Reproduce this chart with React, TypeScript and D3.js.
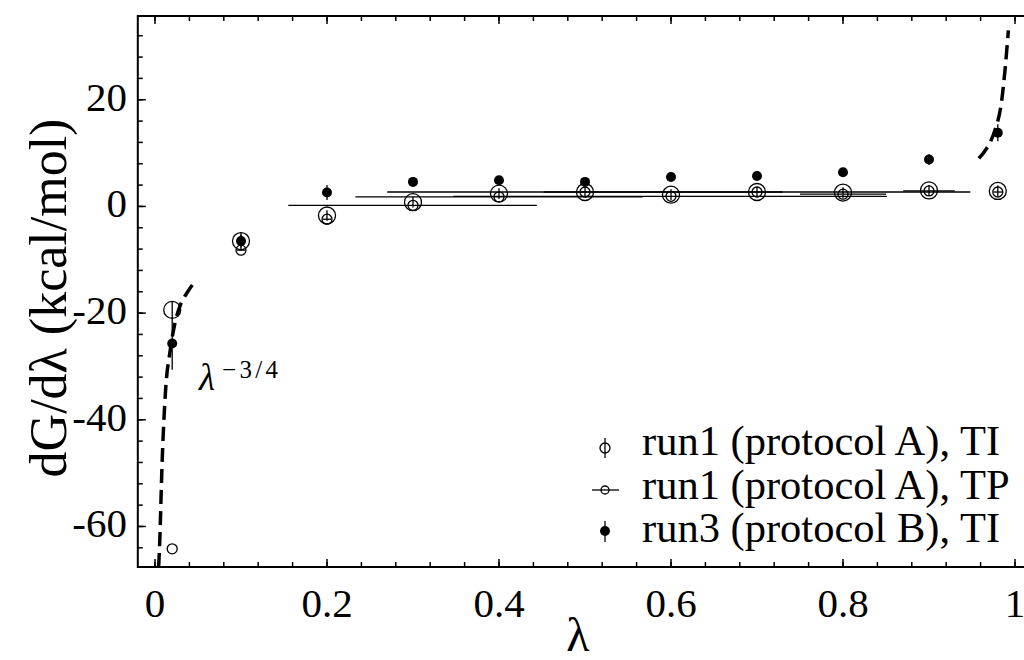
import React from 'react';
import * as d3 from 'd3';

// ---------- data ----------
const lambdas = [0.02, 0.1, 0.2, 0.3, 0.4, 0.5, 0.6, 0.7, 0.8, 0.9, 0.98];
// run1 (protocol A), TI : big open circles with vertical error bars
const run1TI = [-19.4, -6.5, -1.7, 0.8, 2.4, 2.7, 2.2, 2.7, 2.6, 3.0, 2.9];
const run1TIErr = [1.6, 1.2, 1.0, 1.0, 1.0, 1.0, 1.0, 1.0, 1.0, 1.0, 1.0];
// run1 (protocol A), TP : small open circles with horizontal bars
const run1TP = [-64.2, -8.2, -2.4, 0.2, 1.8, 2.7, 1.9, 2.7, 2.3, 2.9, 2.7];
const run1TPLo = [0.02, 0.095, 0.195, 0.155, 0.233, 0.27, 0.347, 0.452, 0.75, 0.87, 0.975];
const run1TPHi = [0.02, 0.105, 0.205, 0.444, 0.567, 0.73, 0.851, 0.948, 0.85, 0.93, 0.985];
// run3 (protocol B), TI : filled circles with vertical error bars
const run3TI = [-25.7, -6.5, 2.6, 4.6, 4.9, 4.6, 5.5, 5.7, 6.4, 8.8, 13.8];
const run3TIErr = [4.9, 1.5, 1.4, 0.4, 0.4, 0.4, 0.4, 0.4, 0.4, 1.0, 1.6];

// lambda^{-3/4} guide curves
const leftCurveX = [0.0042, 0.005, 0.0085, 0.0125, 0.0174, 0.0233, 0.03, 0.038, 0.047];
const leftCurveY = [-67.6, -65.0, -47.0, -34.0, -27.3, -21.8, -18.3, -16.0, -14.0];
const rightCurveX = [0.958, 0.965, 0.971, 0.977, 0.9845, 0.9884, 0.9923];
const rightCurveY = [9.0, 10.4, 12.0, 14.4, 19.8, 25.6, 33.0];

const xMajor = [0, 0.2, 0.4, 0.6, 0.8, 1];
const xMajorLabels = ['0', '0.2', '0.4', '0.6', '0.8', '1'];
const xMinor = d3.range(0, 26).map((i) => i * 0.04);
const yMajor = [-60, -40, -20, 0, 20];
const yMajorLabels = ['-60', '-40', '-20', '0', '20'];
const yMinor = d3.range(-16, 9).map((i) => i * 4);

const legendLabels = ['run1 (protocol A), TI', 'run1 (protocol A), TP', 'run3 (protocol B), TI'];

const FONT = "'Liberation Serif', 'Times New Roman', Times, 'DejaVu Serif', serif";

export default function App() {
  const W = 1024, H = 660;
  const x = d3.scaleLinear().domain([-0.02, 1.02]).range([137.8, 1032.2]);
  const y = d3.scaleLinear().domain([-67.6, 35.7]).range([567, 16]);
  const L = x.range()[0], R = x.range()[1], T = y.range()[1], B = y.range()[0];

  const line = d3.line<[number, number]>().x((d) => x(d[0])).y((d) => y(d[1])).curve(d3.curveMonotoneX);
  const leftPts = leftCurveX.map((v, i) => [v, leftCurveY[i]] as [number, number]);
  const rightPts = rightCurveX.map((v, i) => [v, rightCurveY[i]] as [number, number]);

  const majorLen = 8, minorLen = 5;
  const ts: React.CSSProperties = { fontFamily: FONT };

  return (
    <svg width={W} height={H} style={{ position: 'absolute', left: 0, top: 0, background: '#fff', fontFamily: FONT }}>
      <rect x={0} y={0} width={W} height={H} fill="#fff" />
      {/* frame */}
      <rect x={L} y={T} width={R - L} height={B - T} fill="none" stroke="#000" strokeWidth={2} />
      {/* x ticks top & bottom */}
      {xMinor.map((v, i) => (
        <g key={'xm' + i}>
          <line x1={x(v)} x2={x(v)} y1={B} y2={B - minorLen} stroke="#000" strokeWidth={1.5} />
          <line x1={x(v)} x2={x(v)} y1={T} y2={T + minorLen} stroke="#000" strokeWidth={1.5} />
        </g>
      ))}
      {xMajor.map((v, i) => (
        <g key={'xM' + i}>
          <line x1={x(v)} x2={x(v)} y1={B} y2={B - majorLen} stroke="#000" strokeWidth={1.5} />
          <line x1={x(v)} x2={x(v)} y1={T} y2={T + majorLen} stroke="#000" strokeWidth={1.5} />
          <text x={x(v)} y={617} fontSize={41} textAnchor="middle" style={ts}>{xMajorLabels[i]}</text>
        </g>
      ))}
      {/* y ticks left & right */}
      {yMinor.map((v, i) => (
        <g key={'ym' + i}>
          <line x1={L} x2={L + minorLen} y1={y(v)} y2={y(v)} stroke="#000" strokeWidth={1.5} />
          <line x1={R} x2={R - minorLen} y1={y(v)} y2={y(v)} stroke="#000" strokeWidth={1.5} />
        </g>
      ))}
      {yMajor.map((v, i) => (
        <g key={'yM' + i}>
          <line x1={L} x2={L + majorLen} y1={y(v)} y2={y(v)} stroke="#000" strokeWidth={1.5} />
          <line x1={R} x2={R - majorLen} y1={y(v)} y2={y(v)} stroke="#000" strokeWidth={1.5} />
          <text x={127} y={y(v) + 11} fontSize={41} textAnchor="end" style={ts}>{yMajorLabels[i]}</text>
        </g>
      ))}
      {/* axis titles */}
      <text x={578} y={651} fontSize={48} textAnchor="middle" style={ts}>λ</text>
      <text transform={`translate(66,${298}) rotate(-90)`} fontSize={52} textAnchor="middle" style={ts}>dG/dλ (kcal/mol)</text>

      {/* guide curves */}
      <path d={line(leftPts) || ''} fill="none" stroke="#000" strokeWidth={3.5} strokeDasharray="14 7" />
      <path d={line(rightPts) || ''} fill="none" stroke="#000" strokeWidth={3.5} strokeDasharray="14 7" />
      <text x={199} y={390} fontSize={37} fontStyle="italic" style={ts}>λ</text>
      <text x={222} y={378} fontSize={25} textLength={56} lengthAdjust="spacing" style={ts}>−3/4</text>

      {/* TP horizontal bars + small circles */}
      {lambdas.map((l, i) => (
        <g key={'tp' + i}>
          {run1TPHi[i] > run1TPLo[i] && (
            <line x1={x(run1TPLo[i])} x2={x(run1TPHi[i])} y1={y(run1TP[i])} y2={y(run1TP[i])} stroke="#000" strokeWidth={1.3} />
          )}
          <circle cx={x(l)} cy={y(run1TP[i])} r={5} fill="none" stroke="#000" strokeWidth={1.3} />
        </g>
      ))}
      {/* run1 TI big circles */}
      {lambdas.map((l, i) => (
        <g key={'ti' + i}>
          <line x1={x(l)} x2={x(l)} y1={y(run1TI[i] - run1TIErr[i])} y2={y(run1TI[i] + run1TIErr[i])} stroke="#000" strokeWidth={1.3} />
          <circle cx={x(l)} cy={y(run1TI[i])} r={8.5} fill="none" stroke="#000" strokeWidth={1.3} />
        </g>
      ))}
      {/* run3 TI filled */}
      {lambdas.map((l, i) => (
        <g key={'r3' + i}>
          <line x1={x(l)} x2={x(l)} y1={y(run3TI[i] - run3TIErr[i])} y2={y(run3TI[i] + run3TIErr[i])} stroke="#000" strokeWidth={1.3} />
          <circle cx={x(l)} cy={y(run3TI[i])} r={5} fill="#000" />
        </g>
      ))}

      {/* legend */}
      <g>
        <line x1={605} x2={605} y1={438} y2={458} stroke="#000" strokeWidth={1.3} />
        <circle cx={605} cy={448} r={5} fill="none" stroke="#000" strokeWidth={1.3} />
        <text x={642} y={455} fontSize={42.5} style={ts}>{legendLabels[0]}</text>

        <line x1={592} x2={619} y1={490} y2={490} stroke="#000" strokeWidth={1.3} />
        <circle cx={605} cy={490} r={4} fill="none" stroke="#000" strokeWidth={1.3} />
        <text x={642} y={498.5} fontSize={42.5} style={ts}>{legendLabels[1]}</text>

        <line x1={605} x2={605} y1={521} y2={542} stroke="#000" strokeWidth={1.3} />
        <circle cx={605} cy={531} r={5} fill="#000" />
        <text x={642} y={542} fontSize={42.5} style={ts}>{legendLabels[2]}</text>
      </g>
    </svg>
  );
}
